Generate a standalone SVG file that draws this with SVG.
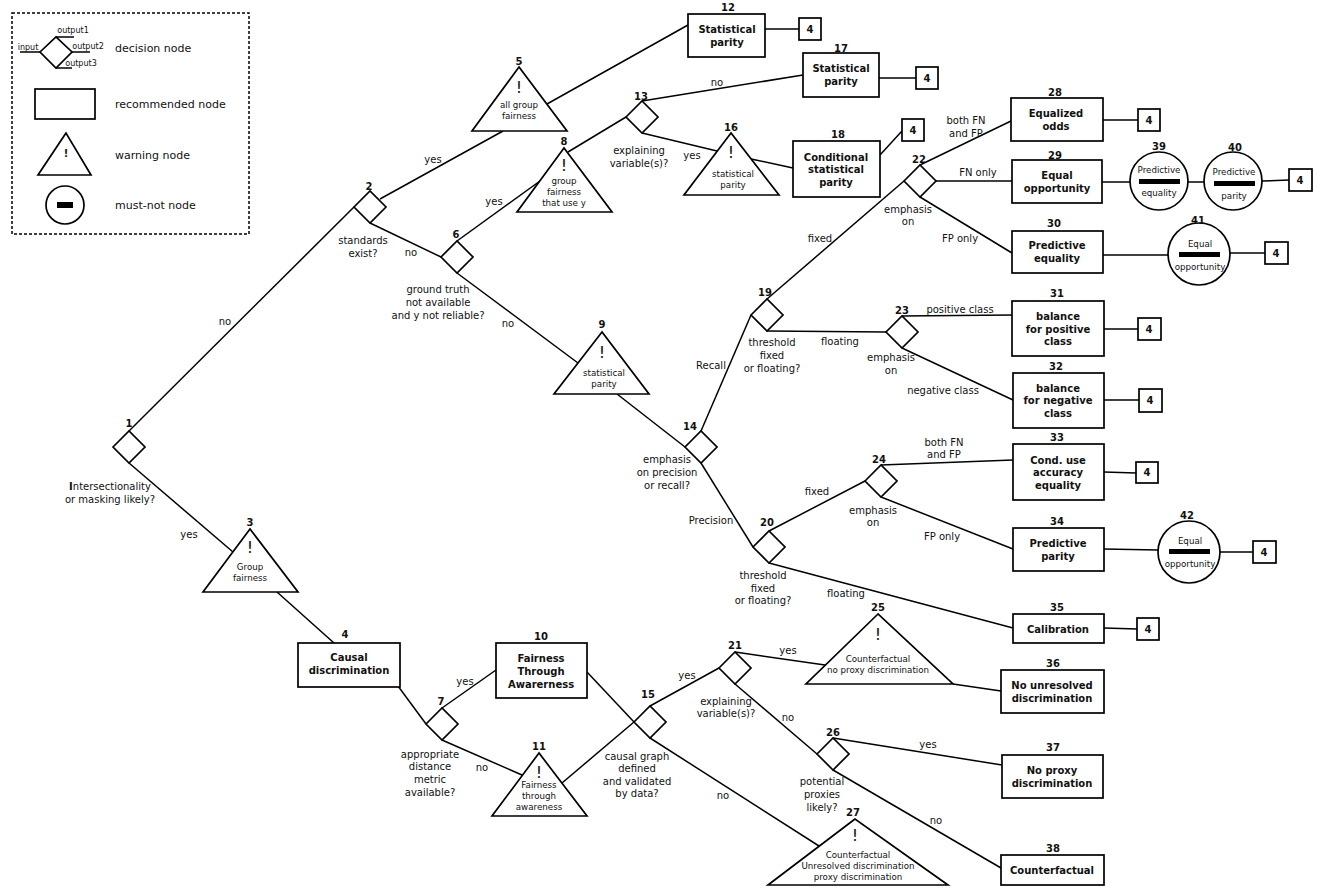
<svg xmlns="http://www.w3.org/2000/svg" width="1325" height="890" viewBox="0 0 1325 890">
<style>
text{font-family:"DejaVu Sans","Liberation Sans",sans-serif;fill:#111;text-anchor:middle}
.n{font-size:10px;font-weight:bold}
.b{font-size:10px;font-weight:bold}
.l{font-size:10px}
.t{font-size:8.7px}
.x{font-size:16px}
.lg{font-size:11px;text-anchor:start}
.s{font-size:8px}
.sh{fill:#fff;stroke:#000;stroke-width:1.7}
.e line{stroke:#000;stroke-width:1.5}
.bar{fill:#000}
</style>
<rect width="1325" height="890" fill="#fff"/>
<g id="legend">
<rect x="12" y="13" width="237" height="221" fill="none" stroke="#000" stroke-width="1.5" stroke-dasharray="3,2"/>
<g stroke="#000" stroke-width="1.5"><line x1="20" y1="52" x2="40" y2="52"/><line x1="56" y1="37" x2="74" y2="37"/><line x1="72" y1="52" x2="90" y2="52"/><line x1="56" y1="68" x2="72" y2="68"/></g>
<polygon class="sh" points="40,52 56,37 72,52 56,68"/>
<text class="s" x="28" y="50">input</text><text class="s" x="73" y="33">output1</text><text class="s" x="88" y="49">output2</text><text class="s" x="81" y="66">output3</text>
<rect class="sh" x="35" y="89" width="60" height="30"/>
<polygon class="sh" points="66,133 38,175 91,175"/><text x="66" y="157" style="font-size:10px;font-weight:bold">!</text>
<circle class="sh" cx="65" cy="205" r="19"/><rect class="bar" x="57" y="202" width="16" height="6"/>
<text class="lg" x="115" y="52">decision node</text><text class="lg" x="115" y="108">recommended node</text><text class="lg" x="115" y="159">warning node</text><text class="lg" x="115" y="209">must-not node</text>
</g>
<g id="connectors" class="e">
<line x1="129" y1="431" x2="354" y2="207"/><line x1="129" y1="463" x2="233" y2="552"/><line x1="277" y1="592" x2="334" y2="643"/>
<line x1="380" y1="199" x2="503" y2="131"/><line x1="370" y1="223" x2="441" y2="257"/><line x1="457" y1="241" x2="540" y2="181"/>
<line x1="568" y1="152" x2="626" y2="117"/><line x1="547" y1="104" x2="688" y2="25"/><line x1="765" y1="29" x2="799" y2="29"/>
<line x1="642" y1="101" x2="803" y2="75"/><line x1="879" y1="78" x2="916" y2="78"/><line x1="642" y1="133" x2="717" y2="151"/>
<line x1="751" y1="159" x2="793" y2="168"/><line x1="880" y1="155" x2="902" y2="131"/><line x1="457" y1="273" x2="578" y2="363"/>
<line x1="617" y1="394" x2="685" y2="447"/><line x1="701" y1="431" x2="751" y2="315"/><line x1="701" y1="463" x2="753" y2="547"/>
<line x1="767" y1="299" x2="904" y2="181"/><line x1="767" y1="331" x2="886" y2="332"/><line x1="920" y1="165" x2="1011" y2="121"/>
<line x1="936" y1="181" x2="1012" y2="181"/><line x1="920" y1="197" x2="1012" y2="253"/><line x1="1103" y1="120" x2="1138" y2="120"/>
<line x1="1102" y1="182" x2="1130" y2="182"/><line x1="1188" y1="182" x2="1204" y2="182"/><line x1="1262" y1="181" x2="1289" y2="180"/>
<line x1="1103" y1="255" x2="1168" y2="255"/><line x1="1230" y1="253" x2="1265" y2="253"/><line x1="902" y1="316" x2="1012" y2="315"/>
<line x1="902" y1="348" x2="1013" y2="400"/><line x1="1104" y1="329" x2="1138" y2="329"/><line x1="1104" y1="400" x2="1139" y2="400"/>
<line x1="769" y1="531" x2="865" y2="481"/><line x1="769" y1="563" x2="1013" y2="628"/><line x1="881" y1="465" x2="1013" y2="460"/>
<line x1="881" y1="497" x2="1013" y2="549"/><line x1="1104" y1="472" x2="1136" y2="473"/><line x1="1104" y1="549" x2="1158" y2="550"/>
<line x1="1220" y1="552" x2="1253" y2="552"/><line x1="1104" y1="628" x2="1137" y2="629"/><line x1="398" y1="686" x2="426" y2="724"/>
<line x1="442" y1="708" x2="496" y2="670"/><line x1="442" y1="740" x2="522" y2="775"/><line x1="587" y1="672" x2="634" y2="722"/>
<line x1="562" y1="783" x2="634" y2="722"/><line x1="650" y1="706" x2="719" y2="668"/><line x1="650" y1="738" x2="819" y2="846"/>
<line x1="735" y1="652" x2="825" y2="665"/><line x1="953" y1="684" x2="1001" y2="691"/><line x1="735" y1="684" x2="817" y2="754"/>
<line x1="833" y1="738" x2="1002" y2="765"/><line x1="833" y1="770" x2="1001" y2="868"/>
</g>
<g id="edge-labels">
<text class="l" x="225" y="325">no</text><text class="l" x="189" y="538">yes</text>
<text class="l" x="110" y="490"><tspan font-weight="bold">I</tspan>ntersectionality</text><text class="l" x="110" y="503">or masking likely?</text>
<text class="l" x="433" y="163">yes</text><text class="l" x="363" y="244">standards</text><text class="l" x="363" y="257">exist?</text><text class="l" x="411" y="256">no</text>
<text class="l" x="494" y="205">yes</text><text class="l" x="438" y="293">ground truth</text><text class="l" x="438" y="306">not available</text><text class="l" x="438" y="319">and y not reliable?</text>
<text class="l" x="508" y="327">no</text><text class="l" x="717" y="86">no</text><text class="l" x="639" y="154">explaining</text><text class="l" x="639" y="167">variable(s)?</text>
<text class="l" x="692" y="159">yes</text><text class="l" x="966" y="124">both FN</text><text class="l" x="966" y="137">and FP</text><text class="l" x="978" y="176">FN only</text>
<text class="l" x="960" y="242">FP only</text><text class="l" x="908" y="213">emphasis</text><text class="l" x="908" y="225">on</text>
<text class="l" x="820" y="242">fixed</text><text class="l" x="840" y="345">floating</text><text class="l" x="772" y="346">threshold</text><text class="l" x="772" y="359">fixed</text><text class="l" x="772" y="372">or floating?</text>
<text class="l" x="960" y="313">positive class</text><text class="l" x="943" y="394">negative class</text><text class="l" x="891" y="361">emphasis</text><text class="l" x="891" y="374">on</text>
<text class="l" x="711" y="369">Recall</text><text class="l" x="711" y="524">Precision</text><text class="l" x="667" y="463">emphasis</text><text class="l" x="667" y="476">on precision</text><text class="l" x="667" y="489">or recall?</text>
<text class="l" x="817" y="495">fixed</text><text class="l" x="846" y="597">floating</text><text class="l" x="763" y="579">threshold</text><text class="l" x="763" y="592">fixed</text><text class="l" x="763" y="604">or floating?</text>
<text class="l" x="944" y="446">both FN</text><text class="l" x="944" y="458">and FP</text><text class="l" x="942" y="540">FP only</text><text class="l" x="873" y="514">emphasis</text><text class="l" x="873" y="526">on</text>
<text class="l" x="788" y="654">yes</text><text class="l" x="788" y="721">no</text><text class="l" x="726" y="705">explaining</text><text class="l" x="726" y="717">variable(s)?</text>
<text class="l" x="687" y="679">yes</text><text class="l" x="723" y="799">no</text><text class="l" x="637" y="760">causal graph</text><text class="l" x="637" y="772">defined</text><text class="l" x="637" y="785">and validated</text><text class="l" x="637" y="797">by data?</text>
<text class="l" x="928" y="748">yes</text><text class="l" x="936" y="824">no</text><text class="l" x="822" y="785">potential</text><text class="l" x="822" y="798">proxies</text><text class="l" x="822" y="811">likely?</text>
<text class="l" x="465" y="685">yes</text><text class="l" x="482" y="771">no</text><text class="l" x="430" y="758">appropriate</text><text class="l" x="430" y="770">distance</text><text class="l" x="430" y="783">metric</text><text class="l" x="430" y="796">available?</text>
</g>
<g id="n1"><polygon class="sh" points="113,447 129,431 145,447 129,463"/><text class="n" x="129" y="427">1</text></g>
<g id="n2"><polygon class="sh" points="354,207 370,191 386,207 370,223"/><text class="n" x="369" y="190">2</text></g>
<g id="n6"><polygon class="sh" points="441,257 457,241 473,257 457,273"/><text class="n" x="456" y="238">6</text></g>
<g id="n13"><polygon class="sh" points="626,117 642,101 658,117 642,133"/><text class="n" x="641" y="100">13</text></g>
<g id="n7"><polygon class="sh" points="426,724 442,708 458,724 442,740"/><text class="n" x="441" y="705">7</text></g>
<g id="n14"><polygon class="sh" points="685,447 701,431 717,447 701,463"/><text class="n" x="690" y="430">14</text></g>
<g id="n19"><polygon class="sh" points="751,315 767,299 783,315 767,331"/><text class="n" x="765" y="296">19</text></g>
<g id="n20"><polygon class="sh" points="753,547 769,531 785,547 769,563"/><text class="n" x="767" y="526">20</text></g>
<g id="n22"><polygon class="sh" points="904,181 920,165 936,181 920,197"/><text class="n" x="919" y="163">22</text></g>
<g id="n23"><polygon class="sh" points="886,332 902,316 918,332 902,348"/><text class="n" x="902" y="314">23</text></g>
<g id="n24"><polygon class="sh" points="865,481 881,465 897,481 881,497"/><text class="n" x="879" y="463">24</text></g>
<g id="n15"><polygon class="sh" points="634,722 650,706 666,722 650,738"/><text class="n" x="648" y="698">15</text></g>
<g id="n21"><polygon class="sh" points="719,668 735,652 751,668 735,684"/><text class="n" x="735" y="649">21</text></g>
<g id="n26"><polygon class="sh" points="817,754 833,738 849,754 833,770"/><text class="n" x="833" y="736">26</text></g>
<g id="n3"><polygon class="sh" points="250,529 203,592 298,592"/><text class="n" x="250" y="526">3</text><text class="x" x="250" y="553">!</text><text class="t" x="250" y="570">Group</text><text class="t" x="250" y="581">fairness</text></g>
<g id="n5"><polygon class="sh" points="519,67 472,131 567,131"/><text class="n" x="519" y="65">5</text><text class="x" x="519" y="93">!</text><text class="t" x="519" y="108">all group</text><text class="t" x="519" y="119">fairness</text></g>
<g id="n8"><polygon class="sh" points="564,148 517,212 612,212"/><text class="n" x="564" y="145">8</text><text class="x" x="564" y="171">!</text><text class="t" x="564" y="184">group</text><text class="t" x="564" y="195">fairness</text><text class="t" x="564" y="206">that use y</text></g>
<g id="n9"><polygon class="sh" points="602,332 554,394 649,394"/><text class="n" x="602" y="328">9</text><text class="x" x="602" y="358">!</text><text class="t" x="604" y="376">statistical</text><text class="t" x="604" y="387">parity</text></g>
<g id="n11"><polygon class="sh" points="539,753 492,816 587,816"/><text class="n" x="539" y="750">11</text><text class="x" x="539" y="778">!</text><text class="t" x="539" y="788">Fairness</text><text class="t" x="539" y="799">through</text><text class="t" x="539" y="810">awareness</text></g>
<g id="n16"><polygon class="sh" points="731,133 684,195 779,195"/><text class="n" x="731" y="131">16</text><text class="x" x="731" y="158">!</text><text class="t" x="733" y="177">statistical</text><text class="t" x="733" y="188">parity</text></g>
<g id="n25"><polygon class="sh" points="878,614 806,684 953,684"/><text class="n" x="878" y="611">25</text><text class="x" x="878" y="640">!</text><text class="t" x="878" y="662">Counterfactual</text><text class="t" x="878" y="673">no proxy discrimination</text></g>
<g id="n27"><polygon class="sh" points="855,819 768,885 948,885"/><text class="n" x="853" y="816">27</text><text class="x" x="855" y="841">!</text><text class="t" x="858" y="858">Counterfactual</text><text class="t" x="858" y="869">Unresolved discrimination</text><text class="t" x="858" y="880">proxy discrimination</text></g>
<g id="n4"><rect class="sh" x="298" y="643" width="102" height="44"/><text class="n" x="345" y="638">4</text><text class="b" x="349" y="661">Causal</text><text class="b" x="349" y="674">discrimination</text></g>
<g id="n10"><rect class="sh" x="496" y="643" width="91" height="55"/><text class="n" x="541" y="640">10</text><text class="b" x="541" y="662">Fairness</text><text class="b" x="541" y="675">Through</text><text class="b" x="541" y="688">Awarerness</text></g>
<g id="n12"><rect class="sh" x="688" y="14" width="77" height="43"/><text class="n" x="728" y="11">12</text><text class="b" x="727" y="33">Statistical</text><text class="b" x="727" y="46">parity</text></g>
<g id="n17"><rect class="sh" x="803" y="53" width="76" height="44"/><text class="n" x="841" y="52">17</text><text class="b" x="841" y="72">Statistical</text><text class="b" x="841" y="85">parity</text></g>
<g id="n18"><rect class="sh" x="793" y="141" width="87" height="56"/><text class="n" x="838" y="138">18</text><text class="b" x="836" y="161">Conditional</text><text class="b" x="836" y="173">statistical</text><text class="b" x="836" y="186">parity</text></g>
<g id="n28"><rect class="sh" x="1011" y="98" width="92" height="43"/><text class="n" x="1055" y="96">28</text><text class="b" x="1056" y="117">Equalized</text><text class="b" x="1056" y="130">odds</text></g>
<g id="n29"><rect class="sh" x="1012" y="160" width="90" height="43"/><text class="n" x="1055" y="159">29</text><text class="b" x="1057" y="179">Equal</text><text class="b" x="1057" y="192">opportunity</text></g>
<g id="n30"><rect class="sh" x="1012" y="231" width="91" height="42"/><text class="n" x="1054" y="227">30</text><text class="b" x="1057" y="249">Predictive</text><text class="b" x="1057" y="262">equality</text></g>
<g id="n31"><rect class="sh" x="1012" y="301" width="92" height="55"/><text class="n" x="1057" y="297">31</text><text class="b" x="1058" y="320">balance</text><text class="b" x="1058" y="333">for positive</text><text class="b" x="1058" y="345">class</text></g>
<g id="n32"><rect class="sh" x="1013" y="373" width="91" height="55"/><text class="n" x="1056" y="370">32</text><text class="b" x="1058" y="392">balance</text><text class="b" x="1058" y="404">for negative</text><text class="b" x="1058" y="417">class</text></g>
<g id="n33"><rect class="sh" x="1013" y="444" width="91" height="56"/><text class="n" x="1057" y="441">33</text><text class="b" x="1058" y="464">Cond. use</text><text class="b" x="1058" y="476">accuracy</text><text class="b" x="1058" y="489">equality</text></g>
<g id="n34"><rect class="sh" x="1013" y="528" width="91" height="43"/><text class="n" x="1057" y="525">34</text><text class="b" x="1058" y="547">Predictive</text><text class="b" x="1058" y="560">parity</text></g>
<g id="n35"><rect class="sh" x="1013" y="614" width="91" height="29"/><text class="n" x="1057" y="611">35</text><text class="b" x="1058" y="633">Calibration</text></g>
<g id="n36"><rect class="sh" x="1001" y="670" width="103" height="43"/><text class="n" x="1053" y="667">36</text><text class="b" x="1052" y="689">No unresolved</text><text class="b" x="1052" y="702">discrimination</text></g>
<g id="n37"><rect class="sh" x="1002" y="755" width="101" height="43"/><text class="n" x="1053" y="751">37</text><text class="b" x="1052" y="774">No proxy</text><text class="b" x="1052" y="787">discrimination</text></g>
<g id="n38"><rect class="sh" x="1001" y="855" width="103" height="30"/><text class="n" x="1053" y="852">38</text><text class="b" x="1052" y="874">Counterfactual</text></g>
<g id="n39"><circle class="sh" cx="1159" cy="181" r="29"/><text class="n" x="1159" y="150">39</text><text class="t" x="1159" y="173">Predictive</text><rect class="bar" x="1139" y="179" width="41" height="5"/><text class="t" x="1159" y="196">equality</text></g>
<g id="n40"><circle class="sh" cx="1233" cy="181" r="29"/><text class="n" x="1235" y="151">40</text><text class="t" x="1234" y="175">Predictive</text><rect class="bar" x="1214" y="181" width="41" height="5"/><text class="t" x="1234" y="199">parity</text></g>
<g id="n41"><circle class="sh" cx="1199" cy="254" r="31"/><text class="n" x="1198" y="224">41</text><text class="t" x="1200" y="247">Equal</text><rect class="bar" x="1179" y="252" width="41" height="5"/><text class="t" x="1200" y="270">opportunity</text></g>
<g id="n42"><circle class="sh" cx="1189" cy="552" r="31"/><text class="n" x="1187" y="519">42</text><text class="t" x="1190" y="544">Equal</text><rect class="bar" x="1169" y="549" width="41" height="5"/><text class="t" x="1190" y="567">opportunity</text></g>
<g id="ref12"><rect class="sh" x="799" y="18" width="22" height="22"/><text class="n" x="810" y="33">4</text></g>
<g id="ref17"><rect class="sh" x="916" y="67" width="22" height="22"/><text class="n" x="927" y="82">4</text></g>
<g id="ref18"><rect class="sh" x="902" y="119" width="22" height="22"/><text class="n" x="913" y="134">4</text></g>
<g id="ref28"><rect class="sh" x="1138" y="109" width="22" height="22"/><text class="n" x="1149" y="124">4</text></g>
<g id="ref40"><rect class="sh" x="1289" y="169" width="23" height="22"/><text class="n" x="1300" y="184">4</text></g>
<g id="ref41"><rect class="sh" x="1265" y="242" width="23" height="22"/><text class="n" x="1276" y="257">4</text></g>
<g id="ref31"><rect class="sh" x="1138" y="318" width="23" height="22"/><text class="n" x="1149" y="333">4</text></g>
<g id="ref32"><rect class="sh" x="1139" y="389" width="23" height="23"/><text class="n" x="1150" y="404">4</text></g>
<g id="ref33"><rect class="sh" x="1136" y="462" width="22" height="21"/><text class="n" x="1147" y="476">4</text></g>
<g id="ref42"><rect class="sh" x="1253" y="541" width="23" height="22"/><text class="n" x="1264" y="556">4</text></g>
<g id="ref35"><rect class="sh" x="1137" y="618" width="22" height="22"/><text class="n" x="1148" y="633">4</text></g>
</svg>
